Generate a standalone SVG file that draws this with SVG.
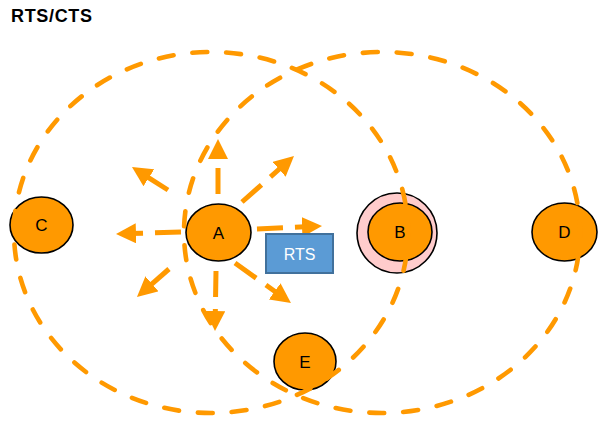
<svg xmlns="http://www.w3.org/2000/svg" width="609" height="426" viewBox="0 0 609 426">
<style>
.node{fill:#FF9900;stroke:#000;stroke-width:1.6}
.ring{fill:#FFCCCC;stroke:#000;stroke-width:1.6}
.lbl{font-family:"Liberation Sans",Arial,sans-serif;font-size:17px;fill:#000;text-anchor:middle}
.range{fill:none;stroke:#FF9900;stroke-width:4.6;stroke-linecap:round;stroke-dasharray:15 19}
.arr{fill:none;stroke:#FF9900;stroke-width:5;stroke-dasharray:26 12;marker-end:url(#ah)}
</style>
<defs>
<marker id="ah" markerUnits="userSpaceOnUse" markerWidth="20" markerHeight="20" viewBox="0 0 20 20" refX="8" refY="10" orient="auto">
<path d="M0,0 L20,10 L0,20 z" fill="#FF9900"/>
</marker>
</defs>
<rect width="609" height="426" fill="#fff"/>
<text x="11" y="22" font-family="'Liberation Sans',Arial,sans-serif" font-size="18" font-weight="bold" textLength="81" lengthAdjust="spacing">RTS/CTS</text>

<g id="node-C"><ellipse class="node" cx="41.5" cy="225" rx="31.5" ry="28"/><text class="lbl" x="41.5" y="231">C</text></g>
<g id="node-A"><ellipse class="node" cx="218.5" cy="232.5" rx="32.5" ry="28.5"/><text class="lbl" x="218.5" y="238.5">A</text></g>
<g id="node-B"><ellipse class="ring" cx="397" cy="233" rx="40" ry="40"/><ellipse class="node" cx="400" cy="232" rx="32" ry="29"/><text class="lbl" x="400" y="238">B</text></g>
<g id="node-D"><ellipse class="node" cx="564.5" cy="232" rx="32.5" ry="29"/><text class="lbl" x="564.5" y="238">D</text></g>
<g id="node-E"><ellipse class="node" cx="305" cy="361.5" rx="31" ry="28.5"/><text class="lbl" x="305" y="367.5">E</text></g>

<g id="ranges">
<path class="range" pathLength="1190" stroke-dashoffset="18.75" d="M211,52 A197,180.5 0 1 1 211,413 A197,180.5 0 1 1 211,52"/>
<path class="range" pathLength="1190" stroke-dashoffset="19.25" d="M382,52 A198,180.5 0 1 1 382,413 A198,180.5 0 1 1 382,52"/>
</g>

<g id="connectors">
<line class="arr" x1="218" y1="194" x2="218" y2="151"/>
<line class="arr" x1="242" y1="202" x2="285" y2="164"/>
<line class="arr" x1="257" y1="229" x2="310" y2="226.6" stroke-dasharray="26 30"/>
<line class="arr" x1="235" y1="263" x2="281.2" y2="296"/>
<line class="arr" x1="216" y1="271" x2="215.2" y2="319"/>
<line class="arr" x1="169" y1="269" x2="146" y2="289.1"/>
<line class="arr" x1="181" y1="232" x2="128" y2="233.6" stroke-dasharray="4 19 100"/>
<line class="arr" x1="168" y1="190" x2="142.1" y2="173.5"/>
</g>

<g id="node-RTS">
<rect x="266" y="234" width="67" height="39" fill="#5B9BD5" stroke="#41719C" stroke-width="2"/>
<text x="299.5" y="259.5" font-family="'Liberation Sans',Arial,sans-serif" font-size="16" fill="#fff" text-anchor="middle">RTS</text>
</g>
</svg>
